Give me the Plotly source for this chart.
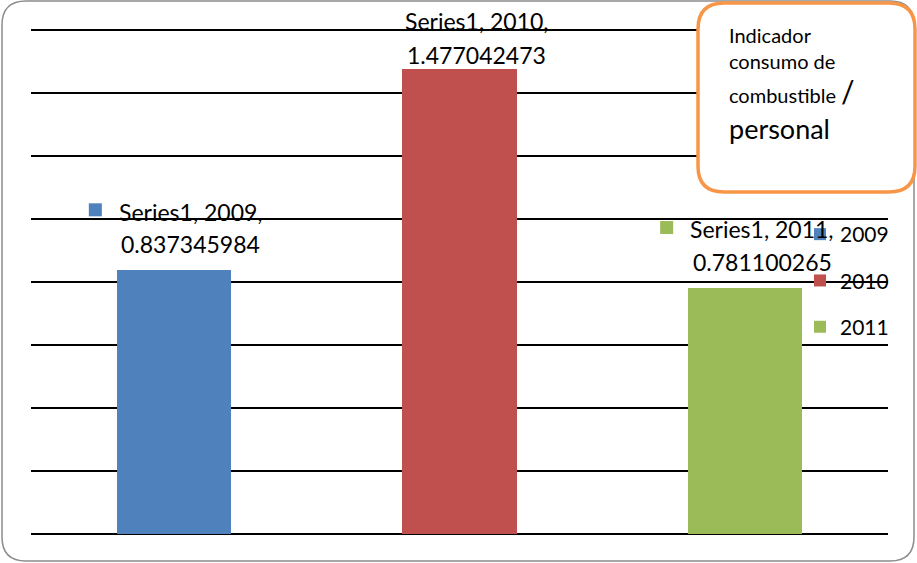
import plotly.graph_objects as go

# ---- data ----
years = ["2009", "2010", "2011"]
values = [0.837345984, 1.477042473, 0.781100265]
series_name = "Series1"
colors = ["#4F81BD", "#C0504D", "#9BBB59"]
box_lines = ["Indicador", "consumo de", "combustible /", "personal"]
y_ticks = [0.2, 0.4, 0.6, 0.8, 1.0, 1.2, 1.4, 1.6]

# ---- layout geometry (pixels) ----
W, H = 917, 563
L, R, T, B = 31, 29, 27, 29
PW, PH = W - L - R, H - T - B
Y_MAX = 1.61


def px(x):
    return (x - L) / PW


def py(y):
    return (H - B - y) / PH


FONT = "Lato, 'Open Sans', sans-serif"

fig = go.Figure()
for yr, v, c in zip(years, values, colors):
    fig.add_trace(go.Bar(
        x=[yr], y=[v], name=yr, marker=dict(color=c, line=dict(width=0)),
        width=0.4, legendgroup=yr, hoverinfo="skip",
    ))

# label offsets above bar top, in pixels (2010 label pushed down to fit)
line1_off = [58, 48, 59]
line2_off = [26, 14, 26]
sq_off = [54, 42, 54]
annotations = []
shapes = []
for i, (yr, v, c) in enumerate(zip(years, values, colors)):
    for txt, off in ((f"{series_name}, {yr},", line1_off[i]),
                     (f"{v:.9f}", line2_off[i])):
        annotations.append(dict(
            x=i, y=v, xref="x", yref="y", xanchor="center", yanchor="middle",
            xshift=17, yshift=off, showarrow=False, text=txt,
            font=dict(family=FONT, size=23, color="#000000"),
        ))
    shapes.append(dict(
        type="rect", xref="x", yref="y", xsizemode="pixel", ysizemode="pixel",
        xanchor=i, yanchor=v, x0=-85, x1=-72, y0=sq_off[i], y1=sq_off[i] + 13,
        fillcolor=c, line=dict(width=0), layer="above",
    ))


def rounded(x0, y0, x1, y1, r):
    # pixel rect -> paper path with rounded corners
    rx = r / PW
    ry = r / PH
    X0, X1 = px(x0), px(x1)
    Yt, Yb = py(y0), py(y1)
    return (f"M {X0+rx},{Yt} L {X1-rx},{Yt} Q {X1},{Yt} {X1},{Yt-ry} "
            f"L {X1},{Yb+ry} Q {X1},{Yb} {X1-rx},{Yb} L {X0+rx},{Yb} "
            f"Q {X0},{Yb} {X0},{Yb+ry} L {X0},{Yt-ry} Q {X0},{Yt} {X0+rx},{Yt} Z")


# outer chart border
shapes.append(dict(type="path", xref="paper", yref="paper",
                   path=rounded(2, 1, 914, 561, 24),
                   line=dict(color="#8C8C8C", width=1.5), layer="above"))
# orange text box
shapes.append(dict(type="path", xref="paper", yref="paper",
                   path=rounded(698, 3, 915, 192, 26),
                   fillcolor="white", line=dict(color="#F79646", width=3.5),
                   layer="above"))

box_y = [35, 61, 91, 128]
box_size = [20, 20, 20, 27]
for t, yy, s in zip(box_lines, box_y, box_size):
    if t.endswith("/"):
        txt = t[:-1] + "<span style='font-size:30px'>/</span>"
    else:
        txt = t
    annotations.append(dict(
        x=px(727), y=py(yy), xref="paper", yref="paper", xanchor="left",
        yanchor="middle", showarrow=False, text=txt,
        font=dict(family=FONT, size=s, color="#000000"),
    ))

fig.update_layout(
    width=W, height=H,
    margin=dict(l=L, r=R, t=T, b=B),
    paper_bgcolor="white", plot_bgcolor="white",
    barmode="overlay", bargap=0,
    showlegend=True,
    legend=dict(x=px(800), y=py(214), xanchor="left", yanchor="top",
                bgcolor="rgba(0,0,0,0)", tracegroupgap=16,
                font=dict(family=FONT, size=21, color="#000000"),
                itemwidth=30),
    xaxis=dict(type="category", range=[-0.5, 2.5], showticklabels=False,
               showgrid=False, zeroline=False, showline=False, ticks=""),
    yaxis=dict(range=[0, Y_MAX], tickmode="array", tickvals=y_ticks,
               showticklabels=False,
               showgrid=True, gridcolor="#000000", gridwidth=1.5,
               zeroline=True, zerolinecolor="#000000", zerolinewidth=1.5,
               showline=False, ticks=""),
    annotations=annotations, shapes=shapes,
)

fig.write_html("out.html", config={"displayModeBar": False},
               post_script="document.body.style.margin='0';document.body.style.padding='0';")
